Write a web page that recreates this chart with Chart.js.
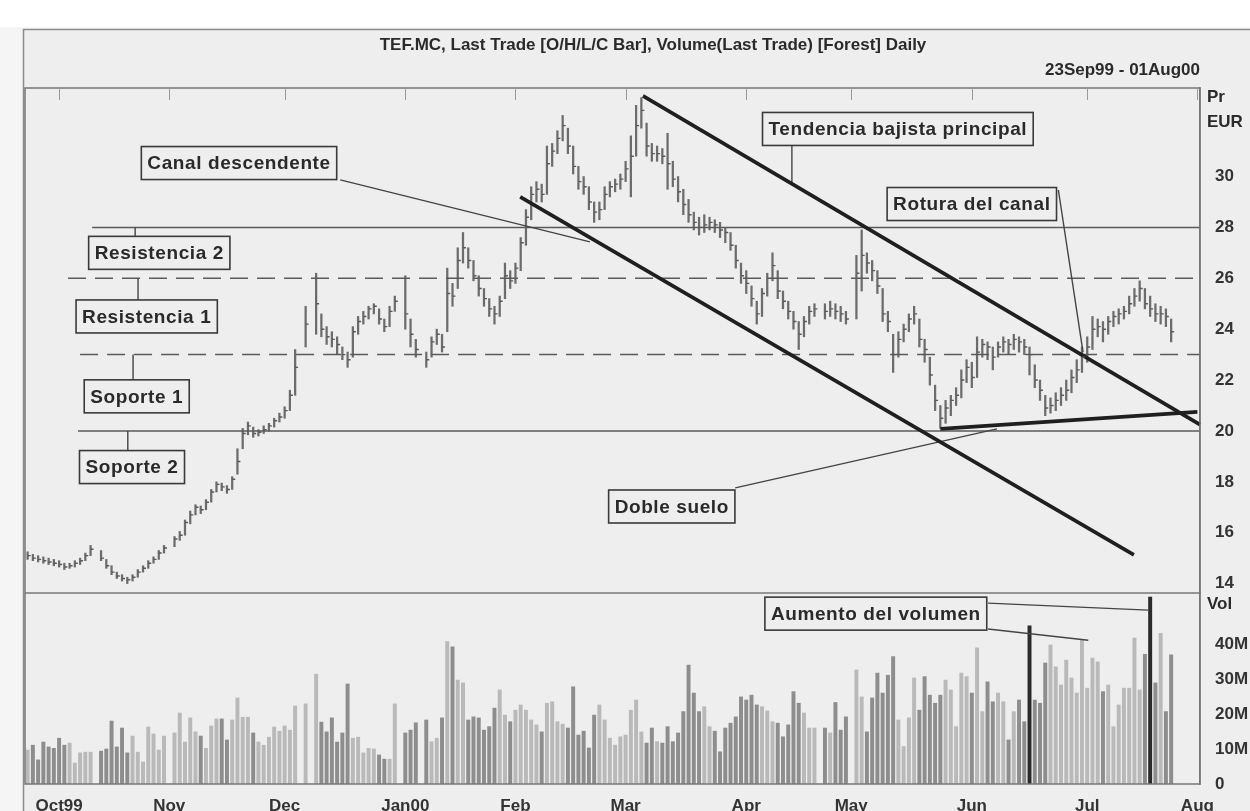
<!DOCTYPE html>
<html>
<head>
<meta charset="utf-8">
<script src="https://cdn.jsdelivr.net/npm/chart.js@4.4.0/dist/chart.umd.min.js"></script>
<style>
html,body{margin:0;padding:0;background:#fff;}
#caja{width:1250px;height:811px;}
</style>
</head>
<body>
<div id="caja"><canvas id="grafica-tef"></canvas></div>
<script>
// eje x: un hueco por dia laborable desde el 23Sep99 (indice 0) hasta el 01Aug00 (indice 223)
var meses = ['Oct99','Nov','Dec','Jan00','Feb','Mar','Apr','May','Jun','Jul','Aug'];
var inicioMes = [6,27,49,72,93,114,137,157,180,202,223];
var ticksPrecio = [14,16,18,20,22,24,26,28,30];
var ticksVolumen = [0,10,20,30,40];

// null = festivo sin cotizacion
var cierres = [
15.1,15.0,14.95,14.9,14.85,14.8,14.75,14.65,14.7,14.8,
14.9,15.1,15.35,null,15.0,14.7,14.45,14.3,14.2,14.15,
14.25,14.45,14.6,14.8,14.95,15.2,15.4,null,15.75,15.9,
16.4,16.7,17.0,16.9,17.2,17.6,17.9,17.8,17.7,18.1,
18.8,19.9,20.2,19.9,19.95,20.05,20.2,20.4,20.55,20.8,
21.4,22.5,null,24.2,null,25.0,24.0,23.7,23.6,23.4,
23.0,22.8,23.9,24.3,24.5,24.8,24.9,24.4,24.1,24.7,
25.1,null,24.6,23.8,23.2,null,22.8,23.5,23.8,23.3,
25.4,25.3,26.7,27.2,26.7,26.1,25.6,25.2,24.8,24.6,
25.1,26.1,25.9,26.4,27.4,28.4,29.3,29.5,29.3,30.5,
31.0,31.5,32.0,31.2,30.4,29.8,29.6,29.0,28.6,28.7,
29.3,29.6,29.7,29.9,30.3,30.8,32.0,32.6,31.2,30.9,
30.9,30.8,30.5,29.9,29.4,28.9,28.5,28.2,28.0,28.1,
28.2,28.1,27.9,27.8,27.3,26.7,26.1,25.8,25.2,24.6,
25.4,26.0,26.5,25.5,25.1,24.7,24.3,23.8,24.3,24.7,
24.8,null,24.7,24.8,24.7,24.6,24.4,null,26.2,26.9,
26.6,26.3,25.7,24.6,24.3,23.0,23.6,24.0,24.4,24.6,
23.6,23.2,22.2,21.2,20.5,20.9,21.2,21.4,22.0,22.5,
22.1,23.1,23.4,23.3,22.9,23.3,23.5,23.4,23.6,23.5,
23.3,23.0,22.0,21.6,20.9,21.0,21.2,21.4,21.6,22.1,
22.4,22.9,23.3,24.0,24.1,24.0,24.3,24.5,24.6,24.7,
25.0,25.3,25.6,25.0,24.8,24.6,24.6,24.5,23.9
];
var maximos = [
15.25,15.15,15.1,15.05,15.0,14.95,14.9,14.8,14.8,14.9,
15.0,15.2,15.5,null,15.3,14.95,14.7,14.45,14.35,14.25,
14.35,14.55,14.7,14.9,15.05,15.3,15.5,null,15.85,16.05,
16.5,16.85,17.1,17.05,17.3,17.7,18.0,17.95,17.85,18.2,
19.3,20.1,20.35,20.15,20.05,20.2,20.3,20.5,20.7,20.95,
21.6,23.2,null,24.9,null,26.2,24.6,24.1,23.9,23.7,
23.3,23.1,24.1,24.5,24.7,24.9,25.0,24.8,24.4,24.9,
25.3,null,26.1,24.4,23.6,null,23.1,23.7,24.0,23.8,
26.4,25.8,27.2,27.8,27.2,26.7,26.1,25.6,25.2,24.9,
25.3,26.6,26.3,26.6,27.6,28.7,29.6,29.8,29.7,31.2,
31.3,31.8,32.4,31.9,31.2,30.4,30.0,29.6,29.0,29.0,
29.6,29.8,29.9,30.1,30.6,31.6,32.8,33.1,32.1,31.3,
31.2,31.1,31.7,30.6,30.0,29.5,29.1,28.6,28.4,28.5,
28.4,28.3,28.2,28.0,27.8,27.3,26.6,26.3,25.7,25.1,
25.6,26.2,27.0,26.3,25.5,25.1,24.7,24.3,24.5,24.9,
25.0,null,25.0,25.1,25.0,24.9,24.7,null,26.9,27.9,
27.0,26.7,26.3,25.6,24.7,23.8,23.9,24.2,24.6,24.9,
24.4,23.6,22.9,21.8,21.0,21.2,21.4,21.7,22.4,22.8,
22.7,23.7,23.6,23.5,23.3,23.5,23.7,23.6,23.8,23.7,
23.6,23.3,22.6,22.0,21.4,21.3,21.5,21.7,22.0,22.4,
22.8,23.3,23.7,24.5,24.4,24.3,24.5,24.7,24.8,24.9,
25.3,25.6,25.9,25.6,25.3,25.0,24.9,24.8,24.4
];
var minimos = [
14.95,14.9,14.85,14.8,14.75,14.7,14.65,14.55,14.6,14.65,
14.75,14.9,15.1,null,14.9,14.6,14.35,14.2,14.1,14.0,
14.1,14.25,14.45,14.6,14.8,14.95,15.2,null,15.45,15.7,
15.9,16.35,16.7,16.75,16.9,17.2,17.6,17.65,17.55,17.7,
18.3,19.3,19.85,19.75,19.8,19.9,20.0,20.15,20.35,20.5,
20.8,21.4,null,23.3,null,23.8,23.7,23.4,23.3,23.0,
22.8,22.5,22.9,23.8,24.2,24.4,24.6,24.2,23.9,24.1,
24.7,null,24.0,23.3,22.9,null,22.5,22.9,23.4,23.1,
23.9,24.9,25.6,26.6,26.4,25.9,25.3,24.9,24.5,24.2,
24.5,25.2,25.6,25.8,26.3,27.3,28.3,29.0,29.0,29.3,
30.4,30.9,31.4,30.9,30.1,29.5,29.3,28.7,28.2,28.3,
28.7,29.2,29.4,29.5,29.8,29.2,30.8,31.9,30.8,30.6,
30.6,30.5,29.5,29.6,29.0,28.5,28.2,27.9,27.7,27.8,
27.9,27.8,27.6,27.4,27.1,26.4,25.8,25.4,24.9,24.2,
24.5,25.3,25.9,25.2,24.8,24.4,24.0,23.2,23.7,24.2,
24.5,null,24.4,24.5,24.4,24.3,24.2,null,24.4,25.5,
26.2,25.9,25.4,24.3,23.9,22.3,22.9,23.5,23.9,24.2,
23.3,22.7,21.8,20.8,20.1,20.3,20.6,21.0,21.3,21.9,
21.7,22.1,22.9,22.8,22.4,22.9,23.1,23.0,23.2,23.1,
23.0,22.2,21.7,21.2,20.6,20.7,20.8,21.0,21.2,21.5,
21.9,22.3,22.7,23.2,23.7,23.5,23.8,24.1,24.2,24.4,
24.6,24.9,25.1,24.8,24.5,24.3,24.2,24.1,23.5
];
// volumen en millones de titulos
var volumenes = [
9.7,11.1,6.9,12,10.6,10.2,13.1,11.1,11.7,6.0,
8.9,9.1,9.1,null,9.4,10,18,10.6,16,8.9,
13.7,9.1,6.3,16.3,14.3,9.7,13.7,null,14.6,20.3,
12,18.9,14.9,13.7,10.2,16.6,18.6,18.6,12.6,18.3,
24.6,19.1,19.1,14.6,12,11.1,13.4,16.3,15.1,16.6,
15.4,22.3,null,22.9,null,31.4,17.7,14.9,18.9,12,
14.6,28.6,13.1,13.4,8.9,10.2,10,8.3,7.1,7.1,
22.9,null,14.6,15.4,17.5,null,18.3,12.1,13.1,18.9,
40.7,39.2,29.7,28.9,18.3,19.2,18.9,15.4,16.4,21.7,
26.9,19.7,17.8,21.1,22.6,21.1,18.3,16.9,14.9,23.1,
23.5,17.8,17.1,16,27.8,14,15.1,10.3,19.7,22.6,
18.3,13.1,11.1,13.5,14,21.1,24,14.9,11.7,16,
12.1,11.7,16.4,12.1,14.6,20.7,34,26,20.7,22.1,
16.4,15.1,9.2,16,17.4,19.2,24.9,24,25.4,22.6,
22.1,20.9,17.8,17.4,13.5,16.9,26.4,23.1,20.3,16,
16,null,16,14.6,23.3,15.4,19.2,null,32.6,24.9,
14.9,24.6,31.7,26,31.1,36.4,18.3,10.7,18.9,30.3,
21.1,30.7,25.4,23.1,25.4,29.7,26.9,16.4,31.7,30.7,
26,38.9,20.7,29.2,23.5,26,23.5,12.6,20.7,24,
17.8,45.2,24,23.1,34.6,39.7,33.5,28.3,35.4,30.3,
26,41.1,27.4,36,34.9,26.4,28.3,16.4,22.6,27.4,
27.4,41.7,26.9,37.1,53.4,28.9,43.1,20.7,36.9
];
var diasDestacados = [191,214];

// soportes y resistencias: nivel y primer dia donde empieza la linea
var niveles = [28,26,23,20];
var inicioNivel = [12.3,7.7,10,9.6];
var nivelDiscontinuo = [false,true,true,false];

// anotaciones (posicion en coordenadas de datos)
var notas = [
  {texto:'Canal descendente', x:40.3, y:30.53, eje:'y'},
  {texto:'Resistencia 2', x:25.1, y:27.0, eje:'y'},
  {texto:'Resistencia 1', x:22.7, y:24.5, eje:'y'},
  {texto:'Soporte 1', x:20.8, y:21.36, eje:'y'},
  {texto:'Soporte 2', x:19.9, y:18.58, eje:'y'},
  {texto:'Tendencia bajista principal', x:165.9, y:31.87, eje:'y'},
  {texto:'Rotura del canal', x:180, y:28.92, eje:'y'},
  {texto:'Doble suelo', x:122.8, y:17.03, eje:'y'},
  {texto:'Aumento del volumen', x:161.7, y:48.7, eje:'yv'}
];
var trazos = [
  [117.3,33.17,223.5,20.25],
  [93.9,29.2,210.9,15.13],
  [174,20.08,223,20.75]
];
var conectores = [
  [59.6,29.87,107.2,27.43,'y'],
  [20.5,28.0,20.5,27.5,'y'],
  [21.05,26.0,21.05,25.1,'y'],
  [20.1,23.0,20.1,22.0,'y'],
  [19.1,20.0,19.1,19.2,'y'],
  [145.7,31.2,145.7,29.7,'y'],
  [196.5,29.47,201.2,23.1,'y'],
  [134.9,17.76,184.8,20.08,'y'],
  [183.1,51.7,213.6,49.7,'yv'],
  [183.1,44.3,202.2,41.1,'yv']
];

var FUENTE = '"Liberation Sans", Arial, sans-serif';
Chart.defaults.font.family = FUENTE;
Chart.defaults.color = '#333';

var barrasPrecio = [], barrasVolumen = [], coloresVolumen = [];
for (var i = 0; i < cierres.length; i++) {
  if (cierres[i] !== null) barrasPrecio.push({x:i, y:[minimos[i], maximos[i]]});
  if (volumenes[i] !== null) {
    barrasVolumen.push({x:i, y:volumenes[i]});
    var ant = i > 0 && cierres[i-1] !== null ? cierres[i-1] : (i > 1 ? cierres[i-2] : cierres[i]);
    if (diasDestacados.indexOf(i) >= 0) coloresVolumen.push('#2b2b2b');
    else coloresVolumen.push(cierres[i] >= ant ? '#b9b9b9' : '#8d8d8d');
  }
}

function segmento(x1, y1, x2, y2, eje, color, ancho, guiones, orden) {
  return {type:'line', yAxisID:eje, data:[{x:x1,y:y1},{x:x2,y:y2}],
    borderColor:color, borderWidth:ancho, borderDash:guiones || [],
    pointRadius:0, fill:false, order:orden, clip:false};
}

var conjuntos = [
  {type:'bar', label:'Precio', yAxisID:'y', data:barrasPrecio, grouped:false,
   barThickness:1.6, backgroundColor:'#6c6c6c', order:5},
  {type:'bar', label:'Volumen', yAxisID:'yv', data:barrasVolumen, grouped:false,
   barThickness:3.3, backgroundColor:coloresVolumen, order:5}
];
niveles.forEach(function(n, k) {
  conjuntos.push(segmento(inicioNivel[k], n, 223.5, n, 'y', '#5a5a5a', 1.5,
    nivelDiscontinuo[k] ? [18, 9] : null, 3));
});
conectores.forEach(function(c) {
  conjuntos.push(segmento(c[0], c[1], c[2], c[3], c[4], '#444', 1.4, null, 2));
});
trazos.forEach(function(t) {
  conjuntos.push(segmento(t[0], t[1], t[2], t[3], 'y', '#1f1f1f', 3.6, null, 1));
});

var decorado = {
  id:'decorado',
  beforeDraw:function(chart) {
    var c = chart.ctx;
    c.save();
    c.fillStyle = '#f5f5f5'; c.fillRect(0, 0, chart.width, chart.height);
    c.fillStyle = '#ffffff'; c.fillRect(0, 0, chart.width, 27);
    c.fillStyle = '#eeeeee'; c.fillRect(23, 29, chart.width - 23, chart.height - 29);
    c.strokeStyle = '#8c8c8c'; c.lineWidth = 1.5;
    c.strokeRect(23.5, 29.5, chart.width, chart.height);
    c.restore();
  },
  afterDatasetsDraw:function(chart) {
    var c = chart.ctx, sx = chart.scales.x, sy = chart.scales.y, a = chart.chartArea;
    c.save();
    // marca de cierre a la derecha de cada barra
    c.strokeStyle = '#5a5a5a'; c.lineWidth = 1.4;
    c.beginPath();
    for (var i = 0; i < cierres.length; i++) {
      if (cierres[i] === null) continue;
      var px = sx.getPixelForValue(i), py = sy.getPixelForValue(cierres[i]);
      c.moveTo(px, py); c.lineTo(px + 3, py);
    }
    c.stroke();
    // marco de los paneles
    c.strokeStyle = '#777'; c.lineWidth = 1.5;
    c.strokeRect(a.left, a.top, a.right - a.left, a.bottom - a.top);
    c.beginPath();
    c.moveTo(a.left, sy.bottom); c.lineTo(a.right, sy.bottom);
    c.stroke();
    c.strokeStyle = '#999'; c.lineWidth = 1;
    c.beginPath();
    inicioMes.forEach(function(m) {
      var px = Math.round(sx.getPixelForValue(m)) + 0.5;
      c.moveTo(px, a.top); c.lineTo(px, a.top + 12);
    });
    c.stroke();
    c.restore();
  },
  afterDraw:function(chart) {
    var c = chart.ctx, sx = chart.scales.x, a = chart.chartArea;
    c.save();
    c.fillStyle = '#2a2a2a';
    c.font = 'bold 17px ' + FUENTE;
    c.textBaseline = 'middle';
    c.textAlign = 'center';
    c.fillText('TEF.MC, Last Trade [O/H/L/C Bar], Volume(Last Trade) [Forest] Daily', 653, 45);
    c.textAlign = 'right';
    c.fillText('23Sep99 - 01Aug00', a.right, 70);
    c.textAlign = 'left';
    c.fillText('Pr', a.right + 7, 97);
    c.fillText('EUR', a.right + 7, 122);
    c.fillText('Vol', a.right + 7, 604);
    // cajas de texto
    c.font = 'bold 19px ' + FUENTE;
    if ('letterSpacing' in c) c.letterSpacing = '0.6px';
    c.textAlign = 'center';
    notas.forEach(function(n) {
      var px = sx.getPixelForValue(n.x), py = chart.scales[n.eje].getPixelForValue(n.y);
      var w = c.measureText(n.texto).width + 12, h = 33;
      c.fillStyle = '#eeeeee';
      c.fillRect(px - w / 2, py - h / 2, w, h);
      c.strokeStyle = '#3a3a3a'; c.lineWidth = 1.6;
      c.strokeRect(px - w / 2, py - h / 2, w, h);
      c.fillStyle = '#2a2a2a';
      c.fillText(n.texto, px, py + 1);
    });
    c.restore();
  }
};

new Chart(document.getElementById('grafica-tef'), {
  data:{datasets:conjuntos},
  options:{
    responsive:true,
    maintainAspectRatio:false,
    animation:false,
    events:[],
    layout:{padding:{left:25, top:88, right:0, bottom:0}},
    plugins:{legend:{display:false}, tooltip:{enabled:false}},
    scales:{
      x:{
        type:'linear', min:-0.5, max:223.5, offset:false,
        grid:{display:false}, border:{display:false},
        afterBuildTicks:function(ax) { ax.ticks = inicioMes.map(function(v) { return {value:v}; }); },
        afterFit:function(ax) { ax.height = 27; },
        ticks:{
          autoSkip:false, maxRotation:0, padding:4, color:'#333',
          font:{size:17, weight:'bold'},
          callback:function(v) { return meses[inicioMes.indexOf(v)]; }
        }
      },
      y:{
        type:'linear', position:'right', stack:'paneles', stackWeight:505,
        min:13.63, max:33.48,
        grid:{display:false}, border:{display:true, color:'#777', width:1.5},
        afterBuildTicks:function(ax) { ax.ticks = ticksPrecio.map(function(v) { return {value:v}; }); },
        afterFit:function(ax) { ax.width = 50; },
        ticks:{padding:7, color:'#333', font:{size:17, weight:'bold'}}
      },
      yv:{
        type:'linear', position:'right', stack:'paneles', stackWeight:191,
        min:0, max:54.6,
        grid:{display:false}, border:{display:true, color:'#777', width:1.5},
        afterBuildTicks:function(ax) { ax.ticks = ticksVolumen.map(function(v) { return {value:v}; }); },
        afterFit:function(ax) { ax.width = 50; },
        ticks:{padding:7, color:'#333', font:{size:17, weight:'bold'},
          callback:function(v) { return v === 0 ? '0' : v + 'M'; }}
      }
    }
  },
  plugins:[decorado]
});
</script>
</body>
</html>
